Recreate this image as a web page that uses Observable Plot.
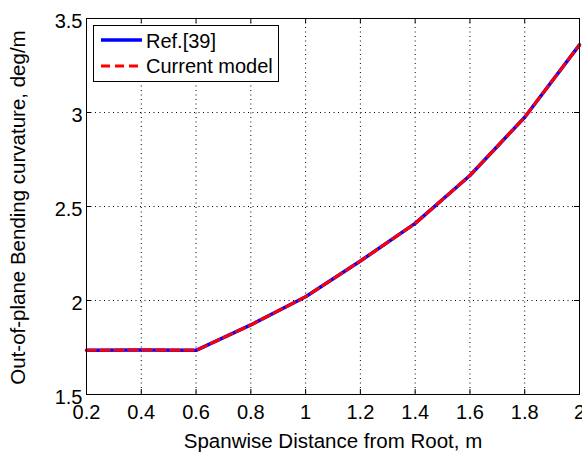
<!DOCTYPE html>
<html>
<head>
<meta charset="utf-8">
<script src="https://cdn.jsdelivr.net/npm/d3@7"></script>
<script src="https://cdn.jsdelivr.net/npm/@observablehq/plot@0.6"></script>
<style>
  html, body { margin: 0; padding: 0; background: #fff; }
  #chart svg { display: block; }
</style>
</head>
<body>
<div id="chart"></div>
<script>
// ---- data ----
const span = [0.2, 0.4, 0.6, 0.8, 1.0, 1.2, 1.4, 1.6, 1.8, 2.0];
const refValues = [1.735, 1.737, 1.735, 1.87, 2.02, 2.21, 2.41, 2.665, 2.975, 3.36];
const currentValues = [1.735, 1.737, 1.735, 1.87, 2.02, 2.21, 2.41, 2.665, 2.975, 3.36];
const xTicks = [0.2, 0.4, 0.6, 0.8, 1, 1.2, 1.4, 1.6, 1.8, 2];
const yTicks = [1.5, 2, 2.5, 3, 3.5];
const seriesNames = ["Ref.[39]", "Current model"];
const xLabel = "Spanwise Distance from Root, m";
const yLabel = "Out-of-plane Bending curvature, deg/m";

const refData = span.map((x, i) => ({x, y: refValues[i]}));
const curData = span.map((x, i) => ({x, y: currentValues[i]}));

const W = 582, H = 452;
const mL = 86, mR = 3, mT = 18, mB = 58;
const innerW = W - mL - mR, innerH = H - mT - mB;
const tick = 5;
const FONT = "'Liberation Sans', Arial, Helvetica, sans-serif";

const plot = Plot.plot({
  width: W, height: H,
  marginLeft: mL, marginRight: mR, marginTop: mT, marginBottom: mB,
  style: {fontFamily: FONT, fontSize: "20px", background: "#fff", color: "#000", overflow: "visible"},
  x: {domain: [0.2, 2]},
  y: {domain: [1.5, 3.5]},
  marks: [
    Plot.gridX(xTicks, {stroke: "#000", strokeOpacity: 1, strokeWidth: 1, strokeDasharray: "1,3.5"}),
    Plot.gridY(yTicks, {stroke: "#000", strokeOpacity: 1, strokeWidth: 1, strokeDasharray: "1,3.5"}),
    // inward ticks on all four sides
    Plot.ruleX(xTicks, {stroke: "#000", insetTop: innerH - tick}),
    Plot.ruleX(xTicks, {stroke: "#000", insetBottom: innerH - tick}),
    Plot.ruleY(yTicks, {stroke: "#000", insetLeft: innerW - tick}),
    Plot.ruleY(yTicks, {stroke: "#000", insetRight: innerW - tick}),
    Plot.axisX(xTicks, {tickSize: 0, tickPadding: 10, fontSize: 20, label: null, tickFormat: d => String(d)}),
    Plot.axisY(yTicks, {tickSize: 0, tickPadding: 4, fontSize: 20, dy: 3, label: null, tickFormat: d => String(d)}),
    Plot.line(refData, {x: "x", y: "y", stroke: "#0000ff", strokeWidth: 3.5}),
    Plot.line(curData, {x: "x", y: "y", stroke: "#ff0000", strokeWidth: 3, strokeDasharray: "9,5"}),
    Plot.frame({stroke: "#000", strokeWidth: 1}),
    Plot.text([xLabel], {frameAnchor: "bottom", text: d => d, lineAnchor: "top", textAnchor: "middle", dy: 39, fontSize: 20.5}),
    Plot.text([yLabel], {frameAnchor: "left", text: d => d, rotate: -90, lineAnchor: "top", textAnchor: "middle", dx: -76, dy: 1, fontSize: 20.5})
  ]
});

// legend drawn into the plot's svg
const svg = d3.select(plot);
const lg = svg.append("g").attr("font-family", FONT).attr("font-size", 20).attr("text-anchor", "start");
const box = {x: 93, y: 25, w: 185, h: 56};
lg.append("rect").attr("x", box.x + 0.5).attr("y", box.y + 0.5).attr("width", box.w).attr("height", box.h)
  .attr("fill", "#fff").attr("stroke", "#000").attr("stroke-width", 1);
const rows = [
  {name: seriesNames[0], stroke: "#0000ff", width: 3.5, dash: null, ly: 40, ty: 48},
  {name: seriesNames[1], stroke: "#ff0000", width: 3, dash: "9,5", ly: 66, ty: 73}
];
rows.forEach(r => {
  lg.append("line").attr("x1", 101).attr("x2", 142).attr("y1", r.ly).attr("y2", r.ly)
    .attr("stroke", r.stroke).attr("stroke-width", r.width).attr("stroke-dasharray", r.dash);
  lg.append("text").attr("x", 146).attr("y", r.ty).attr("fill", "#000").attr("text-anchor", "start").text(r.name);
});

document.getElementById("chart").append(plot);
</script>
</body>
</html>
